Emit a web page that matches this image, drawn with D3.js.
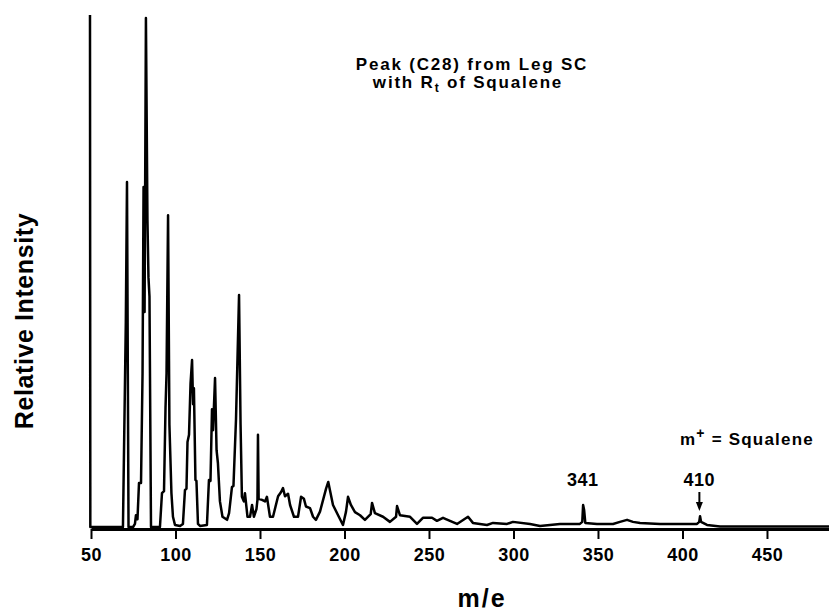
<!DOCTYPE html>
<html>
<head>
<meta charset="utf-8">
<script src="https://cdnjs.cloudflare.com/ajax/libs/d3/7.8.5/d3.min.js"></script>
<style>
  body { margin: 0; background: #fff; }
  text { font-family: "Liberation Sans", Arial, Helvetica, sans-serif; font-weight: bold; fill: #000; }
</style>
</head>
<body>
<svg width="829" height="611"></svg>
<script>
// m/e positions and relative intensity (100 = top of the plot)
var mz = [49.4, 49.6,
  68.9, 70.6, 71.3, 71.8, 72.2,
  74.9, 76.0, 76.6, 77.5, 78.4, 79.6, 80.5, 81.1, 81.7, 82.5, 83.4, 84.0, 84.6, 85.5,
  90.8, 92.0, 93.2, 94.1, 94.7, 95.6, 96.4, 97.6, 98.5, 99.7, 102.7, 104.4,
  105.6, 106.5, 107.1, 108.0, 108.9, 109.8, 110.4, 110.9, 111.8, 112.4, 113.3, 114.5, 118.6,
  119.8, 120.7, 121.6, 122.2, 123.4, 124.3, 125.1, 126.3, 127.8, 130.5, 131.7, 133.4, 134.3,
  135.8, 137.6, 138.5, 139.3, 140.5, 141.1, 142.6, 144.1, 145.3, 146.4, 147.9, 148.5, 148.8, 149.2,
  151.2, 153.0, 154.1, 155.9, 157.7, 160.7, 162.4, 163.6, 164.8, 166.6, 167.8, 170.1, 172.5,
  174.3, 176.0, 177.2, 179.6, 181.4, 183.1, 185.5, 189.1, 190.4, 191.4, 193.2, 196.2, 199.1,
  200.9, 202.1, 203.8, 206.2, 209.2, 212.1, 215.5, 216.3, 218.0, 222.8, 226.9, 230.5, 231.1,
  232.8, 238.8, 242.9, 246.4, 251.8, 254.7, 258.3, 262.4, 266.6, 273.1, 276.0, 284.3, 287.9,
  296.2, 299.7, 309.8, 315.7, 327.5, 339.3, 340.7, 341.2, 341.8, 342.5, 349.4, 358.9, 363.0,
  367.2, 370.7, 374.9, 386.7, 398.5, 408.6, 409.9, 410.4, 411.0, 414.5, 422.2, 486.7];

var intensity = [100, 0,
  0, 40, 67.4, 30, 0,
  0, 0.6, 2.3, 1.5, 8.6, 8.6, 30, 66.4, 42, 99.4, 60, 48.8, 45, 0,
  0, 6.6, 7.0, 23.4, 30, 60.9, 20, 6.6, 2.0, 0.4, 0.2, 0.6,
  7.2, 7.5, 16.6, 18, 28, 32.6, 24, 27.1, 9.2, 9.0, 0.6, 0.2, 0.4,
  9.2, 9.0, 23.0, 18.9, 29.1, 15, 12.5, 5.0, 2.0, 1.4, 2.7, 7.8, 8.0,
  21, 45.3, 20, 5.9, 5.0, 6.6, 2.0, 2.0, 4.3, 2.0, 3.5, 5.3, 18.0, 5.5,
  5.3, 5.0, 5.9, 2.0, 2.0, 6.0, 6.8, 7.6, 6.0, 6.5, 4.3, 2.0, 2.0,
  5.9, 5.5, 4.0, 3.7, 2.0, 1.4, 3.0, 7.5, 8.8, 7.2, 4.3, 2.3, 0.4,
  3.0, 5.9, 4.3, 2.9, 2.3, 1.4, 2.5, 4.7, 2.7, 2.0, 1.0, 2.0, 4.1,
  2.3, 2.0, 0.6, 1.8, 1.8, 1.2, 1.8, 1.2, 0.6, 2.0, 0.8, 0.4, 0.8,
  0.6, 1.0, 0.6, 0.2, 0.6, 0.6, 1.0, 4.3, 3.3, 0.8, 0.6, 0.6, 1.0,
  1.4, 1.0, 0.8, 0.6, 0.6, 0.6, 1.0, 2.1, 1.0, 0.4, 0.1, 0.1];

var xTicks = [50, 100, 150, 200, 250, 300, 350, 400, 450];
var peakLabels = [341, 410];
var titleLines = ["Peak (C28) from Leg SC", "with R", "t", " of Squalene"];

var svg = d3.select("svg"),
    width = +svg.attr("width"),
    height = +svg.attr("height");

var x = d3.scaleLinear().domain([50, 486.7]).range([91, 829]);
var y = d3.scaleLinear().domain([0, 100]).range([527, 15]);

var points = mz.map(function(m, i) { return [m, intensity[i]]; });

// x axis
var axis = svg.append("g")
    .attr("transform", "translate(0,529)")
    .call(d3.axisBottom(x).tickValues(xTicks).tickSize(10).tickSizeOuter(0).tickPadding(9));
axis.select(".domain").attr("stroke", "#000").attr("stroke-width", 3);
axis.selectAll(".tick line").attr("stroke", "#000").attr("stroke-width", 2);
axis.selectAll(".tick text")
    .style("font-family", "'Liberation Sans', Arial, sans-serif")
    .style("font-weight", "bold")
    .style("font-size", "18px")
    .style("letter-spacing", "0.5px")
    .attr("fill", "#000");

// spectrum trace
var line = d3.line()
    .x(function(d) { return x(d[0]); })
    .y(function(d) { return y(d[1]); });

svg.append("path")
    .datum(points)
    .attr("d", line)
    .attr("fill", "none")
    .attr("stroke", "#000")
    .attr("stroke-width", 2.5)
    .attr("stroke-linejoin", "round");

// axis titles
svg.append("text")
    .attr("x", 482)
    .attr("y", 607)
    .attr("text-anchor", "middle")
    .style("font-size", "25px")
    .style("letter-spacing", "2px")
    .text("m/e");

svg.append("text")
    .attr("transform", "translate(33,321) rotate(-90)")
    .attr("text-anchor", "middle")
    .style("font-size", "25px")
    .style("letter-spacing", "0.6px")
    .text("Relative Intensity");

// title
svg.append("text")
    .attr("x", 472)
    .attr("y", 70)
    .attr("text-anchor", "middle")
    .style("font-size", "17px")
    .style("letter-spacing", "1.8px")
    .text(titleLines[0]);

var t2 = svg.append("text")
    .attr("x", 468)
    .attr("y", 88)
    .attr("text-anchor", "middle")
    .style("font-size", "17px")
    .style("letter-spacing", "1.8px");
t2.append("tspan").text(titleLines[1]);
t2.append("tspan").attr("dy", 4).style("font-size", "12px").text(titleLines[2]);
t2.append("tspan").attr("dy", -4).text(titleLines[3]);

// peak labels
svg.selectAll(".plabel")
    .data(peakLabels)
    .enter().append("text")
    .attr("class", "plabel")
    .attr("x", function(d) { return x(d); })
    .attr("y", 486)
    .attr("text-anchor", "middle")
    .style("font-size", "18px")
    .style("letter-spacing", "0.5px")
    .text(function(d) { return d; });

// arrow to molecular ion
var ax = x(410);
svg.append("line")
    .attr("x1", ax).attr("x2", ax)
    .attr("y1", 492).attr("y2", 504)
    .attr("stroke", "#000").attr("stroke-width", 2);
svg.append("path")
    .attr("d", "M" + (ax - 3.5) + ",502L" + (ax + 3.5) + ",502L" + ax + ",511Z")
    .attr("fill", "#000");

var m = svg.append("text")
    .attr("x", 680)
    .attr("y", 445)
    .style("font-size", "17px")
    .style("letter-spacing", "1.2px");
m.append("tspan").text("m");
m.append("tspan").attr("dy", -7).style("font-size", "14px").text("+");
m.append("tspan").attr("dy", 7).text(" = Squalene");
</script>
</body>
</html>
